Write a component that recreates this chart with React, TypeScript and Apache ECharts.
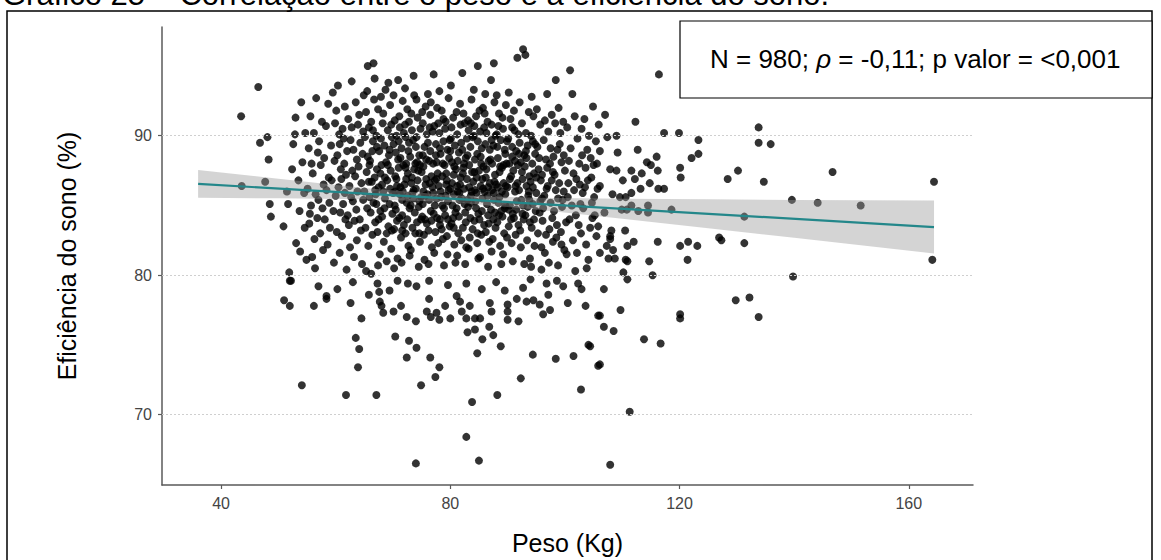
import React, { useEffect, useRef } from "react";
import * as echarts from "echarts";

const titleText = "Gráfico 25 – Correlação entre o peso e a eficiência do sono.";
const xName = "Peso (Kg)";
const yName = "Eficiência do sono (%)";
const xTicks = [40, 80, 120, 160];
const yTicks = [70, 80, 90];

const regX = [36, 164.4];
const regY = [86.55, 83.45];
const bandX = [36, 50, 65, 80, 95, 110, 125, 140, 164.4];
const bandLow = [85.55, 85.51, 85.44, 85.24, 84.71, 84.04, 83.36, 82.68, 81.55];
const bandHigh = [87.55, 86.91, 86.26, 85.74, 85.55, 85.48, 85.44, 85.4, 85.35];

const leftPts = [
  [43.5,91.4],[43.6,86.4],[46.5,93.5],[46.8,89.5],[48.1,89.9],[48.3,88.3],[47.7,86.7],[51.5,86.0],[48.5,85.1],[51.7,85.1],
  [48.7,84.2],[50.9,83.5],[52.9,90.1],[54.7,90.2],[52.6,89.4],[53.1,82.3],[53.8,81.7],[54.9,81.1],[51.9,80.2],[52.0,79.6],
  [53.5,86.8],[54.2,88.1],[53.7,84.6],[54.5,85.9],[52.4,87.6],[54.0,92.4],[53.0,91.3],[54.6,83.4]
];

const corePts = [
  [55.1,86.2],[55.3,89.1],[55.4,83.7],[55.6,91.4],[55.7,85.0],[55.8,88.0],[55.9,81.3],[55.5,84.4],
  [56.0,87.3],[56.2,90.2],[56.3,82.6],[56.5,85.8],[56.6,92.7],[56.8,84.1],[56.9,88.8],[56.4,80.5],
  [57.0,85.4],[57.1,89.6],[57.3,83.0],[57.4,87.9],[57.6,91.0],[57.7,84.8],[57.8,81.8],[57.9,86.5],
  [58.0,88.4],[58.1,84.0],[58.3,90.7],[58.4,86.1],[58.6,82.2],[58.7,92.3],[58.8,87.0],[58.9,85.2],
  [59.0,83.4],[59.2,89.3],[59.3,86.8],[59.5,93.1],[59.6,84.6],[59.7,80.9],[59.8,88.2],[59.9,90.9],
  [60.0,85.7],[60.1,91.8],[60.2,83.1],[60.3,88.6],[60.5,86.3],[60.6,90.1],[60.7,81.6],[60.8,84.5],[60.9,87.6],[60.4,93.6],[60.7,89.4],
  [61.0,86.9],[61.1,82.8],[61.2,90.5],[61.3,85.1],[61.5,88.0],[61.6,92.1],[61.7,84.0],[61.8,87.2],[61.9,80.4],[61.4,89.8],[61.6,85.9],
  [62.0,88.9],[62.1,84.3],[62.2,91.2],[62.4,86.4],[62.5,82.0],[62.6,89.7],[62.7,85.6],[62.8,93.9],[62.9,87.5],[62.3,83.6],[62.8,90.6],
  [63.0,85.3],[63.1,89.0],[63.2,81.3],[63.4,87.1],[63.5,92.4],[63.6,84.7],[63.7,88.3],[63.8,86.0],[63.9,90.8],[63.3,83.9],[63.7,82.5],
  [64.0,87.8],[64.1,91.5],[64.2,84.0],[64.3,89.5],[64.5,86.6],[64.6,80.8],[64.7,88.7],[64.8,85.4],[64.9,92.9],[64.4,83.2],[64.8,90.3],
  [65.0,86.0],[65.1,89.9],[65.2,83.4],[65.3,91.7],[65.4,87.4],[65.5,84.8],[65.6,95.0],[65.6,88.5],[65.7,82.1],[65.8,90.6],[65.9,85.6],[65.3,80.3],[65.5,93.2],[65.9,87.9],
  [66.0,88.2],[66.1,84.5],[66.2,91.0],[66.3,86.7],[66.4,82.9],[66.5,89.6],[66.6,85.2],[66.7,92.6],[66.8,87.0],[66.9,83.8],[66.2,80.1],[66.5,90.4],[66.8,94.1],[66.9,86.1],
  [67.0,85.8],[67.1,90.0],[67.2,87.6],[67.3,83.1],[67.4,91.9],[67.5,86.3],[67.6,88.9],[67.7,81.5],[67.8,84.6],[67.9,92.8],[67.2,89.2],[67.5,84.0],[67.8,87.3],[67.4,80.7],
  [68.0,87.9],[68.1,84.2],[68.2,90.9],[68.3,86.0],[68.4,82.4],[68.5,89.3],[68.6,85.5],[68.7,93.3],[68.8,88.1],[68.9,83.0],[68.3,91.6],[68.6,87.0],[68.9,81.0],[68.1,86.5],
  [69.0,86.8],[69.1,90.4],[69.2,83.5],[69.3,88.6],[69.4,85.1],[69.5,92.2],[69.6,87.5],[69.7,81.9],[69.8,89.9],[69.9,84.4],[69.2,93.8],[69.5,86.2],[69.8,83.2],[69.4,89.0],
  [70.0,85.9],[70.1,89.4],[70.2,83.3],[70.3,91.1],[70.4,87.1],[70.5,84.7],[70.6,90.0],[70.7,86.4],[70.8,81.2],[70.9,88.3],[70.1,92.9],[70.3,85.0],[70.5,88.8],[70.7,83.9],[70.9,94.0],[70.2,80.5],[70.6,86.9],
  [71.0,87.7],[71.1,84.1],[71.2,90.6],[71.3,86.3],[71.4,82.7],[71.5,89.1],[71.6,85.4],[71.7,92.5],[71.8,87.9],[71.9,83.6],[71.1,91.4],[71.3,88.4],[71.5,80.9],[71.7,86.0],[71.9,90.2],[71.2,85.8],[71.6,84.3],
  [72.0,86.5],[72.1,90.8],[72.2,83.0],[72.3,88.0],[72.4,85.2],[72.5,91.9],[72.6,87.3],[72.7,82.1],[72.8,89.5],[72.9,84.8],[72.1,93.4],[72.3,86.9],[72.5,84.0],[72.7,88.9],[72.9,81.4],[72.2,89.9],[72.6,85.7],
  [73.0,88.5],[73.1,85.0],[73.2,91.6],[73.3,87.0],[73.4,83.4],[73.5,89.7],[73.6,86.1],[73.7,92.9],[73.8,84.5],[73.9,88.0],[73.1,81.8],[73.3,90.4],[73.5,85.5],[73.7,87.6],[73.9,83.0],[73.2,86.6],[73.6,94.3],
  [74.0,86.2],[74.1,89.9],[74.2,83.8],[74.3,91.3],[74.4,87.5],[74.5,84.9],[74.6,88.6],[74.7,82.4],[74.8,90.5],[74.9,85.6],[74.1,92.6],[74.3,86.8],[74.5,80.6],[74.7,87.9],[74.9,84.0],[74.2,88.1],[74.6,85.3],
  [75.0,87.4],[75.1,84.2],[75.2,90.9],[75.3,86.0],[75.4,82.9],[75.5,89.2],[75.6,85.7],[75.7,92.1],[75.8,88.3],[75.9,83.7],[75.1,91.7],[75.3,87.8],[75.5,81.1],[75.7,86.5],[75.9,90.1],[75.2,85.1],[75.6,84.0],
  [76.0,85.8],[76.1,89.5],[76.2,83.2],[76.3,88.2],[76.4,86.6],[76.5,91.5],[76.6,84.6],[76.7,87.1],[76.8,82.0],[76.9,90.3],[76.1,93.0],[76.3,85.4],[76.5,88.9],[76.7,83.9],[76.9,86.3],[76.2,80.8],[76.6,92.4],
  [77.0,88.0],[77.1,84.4],[77.2,90.7],[77.3,86.8],[77.4,83.1],[77.5,89.4],[77.6,85.5],[77.7,92.0],[77.8,87.3],[77.9,82.3],[77.1,94.4],[77.3,85.0],[77.5,88.6],[77.7,84.1],[77.9,90.9],[77.2,81.6],[77.6,86.9],
  [78.0,86.4],[78.1,90.2],[78.2,84.0],[78.3,88.7],[78.4,85.6],[78.5,91.8],[78.6,87.1],[78.7,82.6],[78.8,89.6],[78.9,84.8],[78.1,93.2],[78.3,86.0],[78.5,83.3],[78.7,88.0],[78.9,80.7],[78.2,89.1],[78.6,85.0],
  [79.0,87.9],[79.1,84.3],[79.2,91.0],[79.3,86.5],[79.4,82.8],[79.5,89.0],[79.6,85.3],[79.7,92.7],[79.8,88.4],[79.9,83.5],[79.1,90.5],[79.3,87.3],[79.5,81.5],[79.7,86.1],[79.9,89.7],[79.2,85.7],[79.6,84.0],
  [80.0,86.2],[80.1,89.8],[80.2,83.7],[80.3,88.1],[80.4,85.0],[80.5,91.3],[80.6,87.2],[80.7,82.2],[80.8,89.3],[80.9,84.5],[80.1,93.6],[80.3,86.6],[80.5,84.1],[80.7,87.8],[80.9,80.9],[80.2,90.6],[80.6,85.8],
  [81.0,87.6],[81.1,84.8],[81.2,90.1],[81.3,86.0],[81.4,83.0],[81.5,88.8],[81.6,85.4],[81.7,92.3],[81.8,87.0],[81.9,82.5],[81.1,91.7],[81.3,88.2],[81.5,84.2],[81.7,86.5],[81.9,89.5],[81.2,81.4],[81.6,85.9],
  [82.0,85.5],[82.1,89.0],[82.2,83.4],[82.3,87.7],[82.4,86.2],[82.5,90.9],[82.6,84.5],[82.7,88.4],[82.8,82.0],[82.9,86.9],[82.1,94.5],[82.3,91.6],[82.5,85.1],[82.7,83.8],[82.9,89.8],[82.2,87.3],[82.6,80.8],
  [83.0,88.6],[83.1,84.9],[83.2,90.4],[83.3,86.3],[83.4,82.7],[83.5,89.2],[83.6,85.7],[83.7,92.6],[83.8,87.4],[83.9,83.3],[83.1,91.1],[83.3,87.9],[83.5,84.1],[83.7,86.0],[83.9,89.9],[83.2,81.9],[83.6,85.2],
  [84.0,86.7],[84.1,90.0],[84.2,83.9],[84.3,88.3],[84.4,85.3],[84.5,91.4],[84.6,87.0],[84.7,82.3],[84.8,89.6],[84.9,84.4],[84.1,93.3],[84.3,86.1],[84.5,84.8],[84.7,88.7],[84.9,81.2],[84.2,90.7],[84.6,85.9],
  [85.0,87.5],[85.1,84.0],[85.2,90.3],[85.3,86.4],[85.4,82.9],[85.5,89.1],[85.6,85.5],[85.7,92.0],[85.8,87.8],[85.9,83.6],[85.1,91.8],[85.3,88.5],[85.5,84.6],[85.7,86.2],[85.9,90.6],[85.2,81.3],[85.6,86.9],
  [86.0,86.0],[86.1,89.4],[86.2,83.1],[86.3,87.6],[86.4,85.1],[86.5,91.0],[86.6,84.3],[86.7,88.2],[86.8,82.4],[86.9,86.6],[86.1,93.0],[86.3,90.2],[86.5,85.7],[86.7,83.7],[86.9,89.0],[86.2,87.0],[86.6,80.6],
  [87.0,88.3],[87.1,84.7],[87.2,90.8],[87.3,86.1],[87.4,82.6],[87.5,89.3],[87.6,85.4],[87.7,92.4],[87.8,87.2],[87.9,83.4],[87.1,94.0],[87.3,88.0],[87.5,84.0],[87.7,86.7],[87.9,90.0],[87.2,81.7],[87.6,85.9],
  [88.0,86.5],[88.1,90.1],[88.2,83.8],[88.3,88.4],[88.4,85.2],[88.5,91.6],[88.6,87.4],[88.7,82.1],[88.8,89.7],[88.9,84.6],[88.1,92.9],[88.3,86.3],[88.5,84.3],[88.7,87.8],[88.9,80.8],[88.2,89.2],[88.6,85.6],
  [89.0,87.7],[89.1,84.2],[89.2,90.5],[89.3,86.6],[89.4,83.0],[89.5,89.0],[89.6,85.8],[89.7,92.2],[89.8,88.0],[89.9,82.7],[89.1,91.3],[89.3,87.9],[89.5,84.8],[89.7,86.4],[89.9,89.6],[89.2,81.5],[89.6,85.0],
  [90.0,86.3],[90.1,89.8],[90.2,83.5],[90.3,88.0],[90.4,85.0],[90.5,91.2],[90.6,87.1],[90.7,82.3],[90.8,89.2],[90.9,84.4],[90.2,93.1],[90.4,86.9],[90.6,84.0],[90.8,88.5],[90.9,81.0],
  [91.0,87.5],[91.1,84.1],[91.2,90.4],[91.3,86.0],[91.4,82.9],[91.5,88.9],[91.6,85.3],[91.7,95.6],[91.8,87.9],[91.9,83.6],[91.1,91.8],[91.3,88.2],[91.5,84.7],[91.7,86.6],[91.9,90.1],
  [92.0,86.1],[92.1,89.5],[92.2,83.2],[92.3,88.1],[92.4,85.4],[92.5,90.9],[92.6,86.9],[92.7,96.2],[92.8,84.0],[92.9,88.6],[92.1,92.4],[92.3,82.0],[92.5,87.4],[92.7,85.0],[92.9,80.8],
  [93.0,87.8],[93.1,84.3],[93.2,90.2],[93.3,86.4],[93.4,82.5],[93.5,89.3],[93.6,85.7],[93.7,91.7],[93.8,87.1],[93.9,83.8],[93.1,95.8],[93.3,88.4],[93.5,84.9],[93.7,86.0],[93.9,81.2],
  [94.0,86.7],[94.1,90.0],[94.2,83.4],[94.3,88.0],[94.4,85.1],[94.5,91.4],[94.6,87.3],[94.7,82.1],[94.8,89.4],[94.9,84.6],[94.2,92.8],[94.4,86.3],[94.6,84.0],[94.8,88.7],[94.1,80.6],
  [95.0,85.9],[95.2,89.2],[95.3,83.0],[95.4,87.6],[95.6,84.5],[95.7,90.8],[95.8,86.8],[95.9,82.0],[95.1,91.9],[95.5,88.4],[95.7,85.3],[95.9,80.4],
  [96.0,87.2],[96.1,83.9],[96.3,89.7],[96.4,85.7],[96.5,81.6],[96.7,88.3],[96.8,86.2],[96.9,93.0],[96.2,84.8],[96.5,91.1],[96.7,82.9],[96.9,87.7],
  [97.0,86.4],[97.1,90.3],[97.3,83.3],[97.4,88.0],[97.5,85.2],[97.7,91.5],[97.8,84.1],[97.9,87.4],[97.2,80.9],[97.5,89.1],[97.7,86.8],[97.9,82.4],
  [98.0,88.5],[98.1,84.6],[98.3,90.9],[98.4,86.1],[98.5,82.7],[98.7,89.0],[98.8,85.5],[98.9,92.0],[98.2,87.2],[98.6,83.6],[98.8,80.7],[98.4,94.0],
  [99.0,86.6],[99.1,89.4],[99.3,83.1],[99.4,88.1],[99.5,84.9],[99.7,91.0],[99.8,86.0],[99.9,81.8],[99.2,90.2],[99.6,85.4],[99.8,88.6],[99.4,82.2],
  [100.0,87.5],[100.2,83.8],[100.4,90.6],[100.5,85.6],[100.7,88.2],[100.9,94.7],[100.3,81.5],[100.6,86.6],[100.8,84.0],
  [101.0,89.1],[101.2,85.0],[101.4,82.5],[101.5,87.3],[101.7,91.4],[101.9,84.3],[101.3,93.0],[101.6,86.1],[101.8,80.3],
  [102.0,86.9],[102.2,89.8],[102.4,83.6],[102.5,88.0],[102.7,85.1],[102.9,90.5],[102.1,81.6],[102.6,86.5],[102.8,83.0],
  [103.0,88.6],[103.2,84.8],[103.4,91.2],[103.5,86.3],[103.7,82.2],[103.9,89.0],[103.1,85.9],[103.6,87.7],[103.8,80.5],
  [104.0,86.8],[104.2,90.0],[104.4,83.4],[104.5,88.4],[104.7,85.2],[104.9,92.1],[104.1,81.1],[104.6,87.0],[104.8,84.1],
  [105.0,87.9],[105.2,84.3],[105.4,89.6],[105.5,82.8],[105.7,86.2],[105.9,90.8],[105.1,85.6],[105.6,88.0],[105.8,83.5],
  [84.8,95.0],[87.6,95.2],[66.6,95.2]
];

const coreExtra = [
  [65.8,86.7],[66.4,88.9],[67.1,85.1],[67.9,89.8],[68.5,84.8],[69.1,87.9],[69.7,90.8],[70.4,86.0],[71.0,89.6],[71.6,83.2],
  [72.2,87.7],[72.8,91.0],[73.4,85.9],[74.0,89.2],[74.6,83.0],[75.2,88.6],[75.8,86.9],[76.4,90.6],[77.0,85.9],[77.6,88.1],
  [78.2,83.6],[78.8,91.2],[79.4,86.8],[80.0,88.9],[80.6,83.4],[81.2,86.4],[81.8,90.8],[82.4,88.0],[83.0,85.4],[83.6,90.9],
  [84.2,87.4],[84.8,83.0],[85.4,88.0],[86.0,91.6],[86.6,86.3],[87.2,89.7],[87.8,84.5],[88.4,90.7],[89.0,86.0],[89.6,88.7],
  [90.2,84.7],[90.8,90.6],[91.4,86.4],[92.0,88.7],[92.6,84.4],[93.2,88.9],[93.8,85.4],[94.4,89.6],[95.0,87.0],[96.0,85.5]
];

const lowerPts = [
  [52.2,79.6],[51.0,78.2],[52.0,77.8],[56.2,77.8],[57.0,79.2],[58.4,78.5],[58.4,78.3],[54.1,72.1],[61.8,71.4],[67.1,71.4],
  [64.5,76.9],[63.5,75.5],[64.1,74.7],[63.9,73.4],[70.4,75.6],[72.8,75.3],[74.1,74.8],[72.4,74.1],[76.5,74.1],[78.1,73.4],
  [77.4,72.7],[74.9,72.1],[83.8,70.9],[88.2,71.4],[84.7,74.4],[85.6,75.4],[87.5,75.7],[84.3,76.1],[83.0,75.9],[86.8,76.3],
  [88.8,74.9],[92.3,72.6],[94.4,74.3],[98.4,74.0],[101.5,74.2],[102.8,71.8],[104.1,75.0],[104.4,74.9],[105.8,73.5],[105.8,77.1],
  [82.8,68.4],[85.0,66.7],[74.0,66.5],
  [67.3,79.4],[67.6,78.8],[67.7,78.1],[68.0,77.8],[69.4,78.9],[68.3,77.3],[70.1,77.4],[71.4,77.8],[72.4,77.0],[74.0,76.7],
  [70.8,79.6],[74.1,79.2],[72.6,79.4],[76.3,79.6],[76.3,78.3],[75.9,77.4],[76.6,77.0],[78.1,76.8],[77.6,77.3],[79.1,77.8],
  [80.0,76.9],[81.1,78.5],[81.7,78.1],[82.0,77.4],[82.8,76.9],[83.4,77.8],[84.3,76.9],[85.2,76.9],[82.8,79.4],[85.5,79.0],
  [86.9,78.0],[87.2,77.4],[89.5,78.9],[90.0,77.9],[90.0,77.4],[90.0,76.8],[91.6,78.3],[91.9,76.7],[92.7,79.1],[93.3,78.1],
  [94.5,78.2],[95.6,77.9],[96.2,77.2],[97.1,78.6],[97.4,77.5],[96.8,79.4],[98.6,79.6],[99.7,79.2],[102.3,79.4],[102.9,79.0],
  [60.3,79.0],[62.6,78.0],[63.0,79.5],[65.8,78.6],[79.6,79.3],[88.0,79.5],[94.0,79.7],[100.5,78.0],[103.6,77.8]
];

const rightPts = [
  [106.1,88.9],[109.0,90.0],[117.3,90.2],[119.9,90.2],[123.3,89.7],[123.3,88.7],[122.1,88.4],[120.1,87.7],[120.2,87.0],[112.7,89.0],
  [116.0,88.5],[114.3,88.1],[115.0,87.9],[116.2,87.5],[113.4,87.3],[112.2,86.9],[107.9,87.6],[109.0,87.5],[111.6,87.5],[114.8,86.6],
  [113.2,86.2],[116.3,86.2],[117.3,86.2],[106.1,86.4],[109.6,85.6],[110.6,85.6],[111.6,85.9],[111.6,85.0],[114.5,85.0],[118.6,84.7],
  [109.9,84.7],[110.8,84.7],[112.8,84.6],[114.5,84.5],[131.3,84.2],[108.1,83.2],[107.9,82.8],[107.9,82.6],[110.5,83.2],[107.3,82.1],
  [110.9,82.1],[112.0,82.4],[116.2,82.4],[120.1,82.1],[121.5,82.4],[123.1,82.1],[126.9,82.7],[127.3,82.5],[131.3,82.3],[106.1,81.6],
  [108.4,81.8],[107.6,81.2],[108.7,81.2],[110.6,81.1],[110.9,81.0],[114.7,81.0],[121.4,81.1],[164.1,81.1],[164.4,86.7],[110.2,80.2],
  [110.9,79.7],[115.3,80.0],[106.8,79.0],[109.7,77.5],[120.1,77.2],[120.1,76.9],[129.8,78.2],[132.2,78.4],[133.8,77.0],[139.8,79.9],
  [146.7,87.4],[151.6,85.0],[144.1,85.2],[139.6,85.4],[128.4,86.9],[130.2,87.5],[133.8,90.6],[133.8,89.5],[135.9,89.4],[134.7,86.7],
  [106.1,77.1],[106.8,76.3],[108.5,76.0],[113.8,75.4],[116.7,75.1],[106.1,73.6],[111.3,70.2],[107.9,66.4],[116.4,94.4],[107.0,91.5],
  [108.3,85.8],[106.9,84.5],[109.2,88.8],[112.3,91.0],[110.1,86.8],[107.4,89.9]
];

const FONT = "'Liberation Sans', Arial, Helvetica, sans-serif";

export default function App() {
  const ref = useRef<HTMLDivElement>(null);
  useEffect(() => {
    if (!ref.current) return;
    const chart = echarts.init(ref.current, null, { renderer: "svg" });
    const allPts = [...leftPts, ...corePts, ...coreExtra, ...lowerPts, ...rightPts];
    chart.setOption({
      animation: false,
      backgroundColor: "#ffffff",
      textStyle: { fontFamily: FONT },
      grid: { left: 162, right: 188, top: 27, bottom: 71, containLabel: false },
      xAxis: {
        type: "value",
        min: 29.7,
        max: 171.2,
        name: xName,
        nameLocation: "middle",
        nameGap: 45,
        nameTextStyle: { fontSize: 25, color: "#000", fontFamily: FONT },
        axisLine: { show: true, onZero: false, lineStyle: { color: "#5a5a5a", width: 1.5 } },
        axisTick: { show: true, length: 4, customValues: xTicks, lineStyle: { color: "#5a5a5a", width: 1.2 } },
        axisLabel: { customValues: xTicks, fontSize: 16, color: "#444", margin: 10, fontFamily: FONT },
        splitLine: { show: false },
      },
      yAxis: {
        type: "value",
        min: 64.95,
        max: 97.8,
        name: yName,
        nameLocation: "middle",
        nameGap: 83,
        nameRotate: 90,
        nameTextStyle: { fontSize: 25, color: "#000", fontFamily: FONT },
        axisLine: { show: true, onZero: false, lineStyle: { color: "#5a5a5a", width: 1.5 } },
        axisTick: { show: true, length: 4, customValues: yTicks, lineStyle: { color: "#5a5a5a", width: 1.2 } },
        axisLabel: { customValues: yTicks, fontSize: 16, color: "#444", margin: 10, fontFamily: FONT },
        splitLine: { show: false },
      },
      series: [
        {
          type: "line",
          data: regX.map((x, i) => [x, regY[i]]),
          symbol: "none",
          lineStyle: { opacity: 0, width: 0 },
          z: 1,
          silent: true,
          markLine: {
            silent: true,
            symbol: "none",
            label: { show: false },
            lineStyle: { color: "#cfcfcf", type: [2, 2], width: 1.2 },
            data: yTicks.map((v) => ({ yAxis: v })),
          },
        },
        {
          type: "scatter",
          data: allPts,
          symbol: "circle",
          symbolSize: 8,
          itemStyle: { color: "#000000" },
          z: 2,
          silent: true,
        },
        {
          type: "custom",
          data: [[bandX[0], bandLow[0]]],
          z: 3,
          silent: true,
          renderItem: (params: any, api: any) => {
            const top = bandX.map((x, i) => api.coord([x, bandHigh[i]]));
            const bot = bandX.map((x, i) => api.coord([x, bandLow[i]])).reverse();
            return {
              type: "polygon",
              shape: { points: top.concat(bot) },
              style: { fill: "rgba(153,153,153,0.42)", stroke: "none" },
            };
          },
        },
        {
          type: "line",
          data: regX.map((x, i) => [x, regY[i]]),
          symbol: "none",
          lineStyle: { color: "#23878a", width: 2.2 },
          z: 4,
          silent: true,
        },
      ],
      graphic: [
        {
          type: "text",
          left: 2,
          top: -21,
          style: { text: titleText, fontSize: 31, fill: "#000", fontFamily: FONT },
          z: 10,
        },
        {
          type: "rect",
          shape: { x: 7, y: 11, width: 1145, height: 600 },
          style: { fill: "none", stroke: "#000", lineWidth: 1.5 },
          z: 5,
          silent: true,
        },
        {
          type: "rect",
          shape: { x: 680, y: 21, width: 472, height: 77 },
          style: { fill: "#fff", stroke: "#000", lineWidth: 1.2 },
          z: 10,
        },
        {
          type: "text",
          x: 710,
          y: 59,
          style: {
            text: "N = 980; {i|ρ} = -0,11; p valor = <0,001",
            fontSize: 26,
            fill: "#000",
            fontFamily: FONT,
            verticalAlign: "middle",
            rich: { i: { fontStyle: "italic", fontSize: 26, fontFamily: FONT, fill: "#000" } },
          },
          z: 11,
        },
      ],
    });
    return () => chart.dispose();
  }, []);
  return (
    <div
      ref={ref}
      style={{ position: "absolute", left: 0, top: 0, width: 1161, height: 560, background: "#fff" }}
    />
  );
}
